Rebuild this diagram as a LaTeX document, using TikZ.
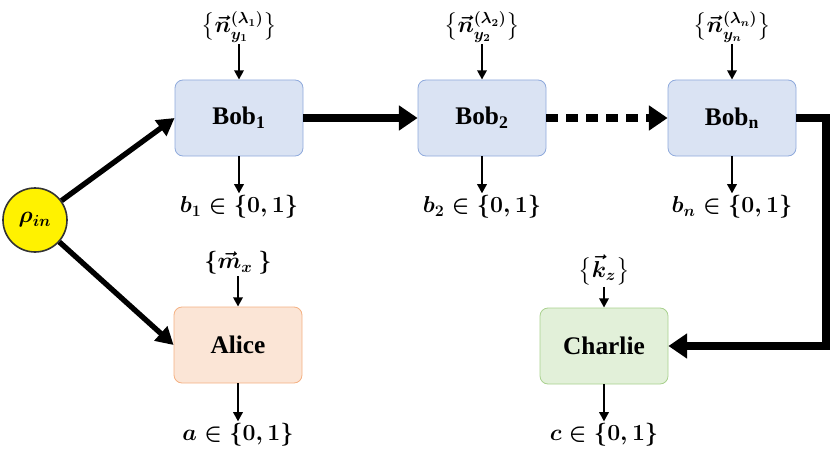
\documentclass[tikz,border=0pt]{standalone}
\usepackage{amsmath}
\usepackage{fontspec}
\setmainfont{Liberation Serif}
\usetikzlibrary{arrows.meta}
\definecolor{bobf}{HTML}{DAE3F3}\definecolor{bobd}{HTML}{8FAADC}
\definecolor{alf}{HTML}{FBE5D6}\definecolor{ald}{HTML}{F4B183}
\definecolor{chf}{HTML}{E2F0D9}\definecolor{chd}{HTML}{A9D18E}
\begin{document}
\begin{tikzpicture}[x=0.75pt,y=-0.75pt,font=\fontsize{17}{20}\selectfont\bfseries\boldmath,
 box/.style={rounded corners=6pt,minimum width=96pt,minimum height=57pt,line width=0.6pt,font=\fontsize{19}{22}\selectfont\bfseries},
 bobbox/.style={box,fill=bobf,draw=bobd},
 small/.style={draw,line width=2pt,-{Triangle[length=7pt,width=7pt]}},
 big/.style={draw,line width=6pt,-{Triangle[length=14pt,width=18pt]}},
 mid/.style={draw,line width=4pt,-{Triangle[length=13pt,width=14pt]}}]
\useasboundingbox (0,0) rectangle (830,449);
\node[circle,fill=yellow,draw=black!80,line width=1.2pt,minimum size=48pt,inner sep=0] (rho) at (35,220) {$\rho_{in}$};
\node[bobbox] (b1) at (239,118) {Bob\textsubscript{1}};
\node[bobbox] (b2) at (482,118) {Bob\textsubscript{2}};
\node[bobbox] (bn) at (732,118) {Bob\textsubscript{n}};
\node[box,fill=alf,draw=ald] (al) at (238,345) {Alice};
\node[box,fill=chf,draw=chd] (ch) at (604,346) {Charlie};
\node[inner sep=1pt] (t1) at (239,27) {$\big\{\vec n^{(\lambda_1)}_{y_1}\big\}$};
\node[inner sep=1pt] (t2) at (482,27) {$\big\{\vec n^{(\lambda_2)}_{y_2}\big\}$};
\node[inner sep=1pt] (tn) at (732,27) {$\big\{\vec n^{(\lambda_n)}_{y_n}\big\}$};
\node[inner sep=1pt] (ta) at (238,263) {$\{\vec m_x\ \}$};
\node[inner sep=1pt] (tc) at (604,270) {$\big\{\vec k_z\big\}$};
\node (o1) at (239,207) {$b_1\in\{0,1\}$};
\node (o2) at (482,207) {$b_2\in\{0,1\}$};
\node (on) at (732,207) {$b_n\in\{0,1\}$};
\node (oa) at (238,435) {$a\in\{0,1\}$};
\node (oc) at (604,435) {$c\in\{0,1\}$};
\foreach \t/\b in {t1/b1,t2/b2,tn/bn,ta/al,tc/ch}{\path[small] (\t.south) -- (\b.north);}
\foreach \b/\o in {b1/o1,b2/o2,bn/on,al/oa,ch/oc}{\path[small] (\b.south) -- ([yshift=-2pt]\o.north);}
\path[mid] (rho) -- (b1.west);
\path[mid] (rho) -- (al.west);
\path[big] (b1.east) -- (b2.west);
\path[big,dash pattern=on 9pt off 6pt] (b2.east) -- (bn.west);
\coordinate (c1) at (826,118); \coordinate (c2) at (826,346);
\path[big] (bn.east) -- (c1) -- (c2) -- (ch.east);
\end{tikzpicture}
\end{document}
